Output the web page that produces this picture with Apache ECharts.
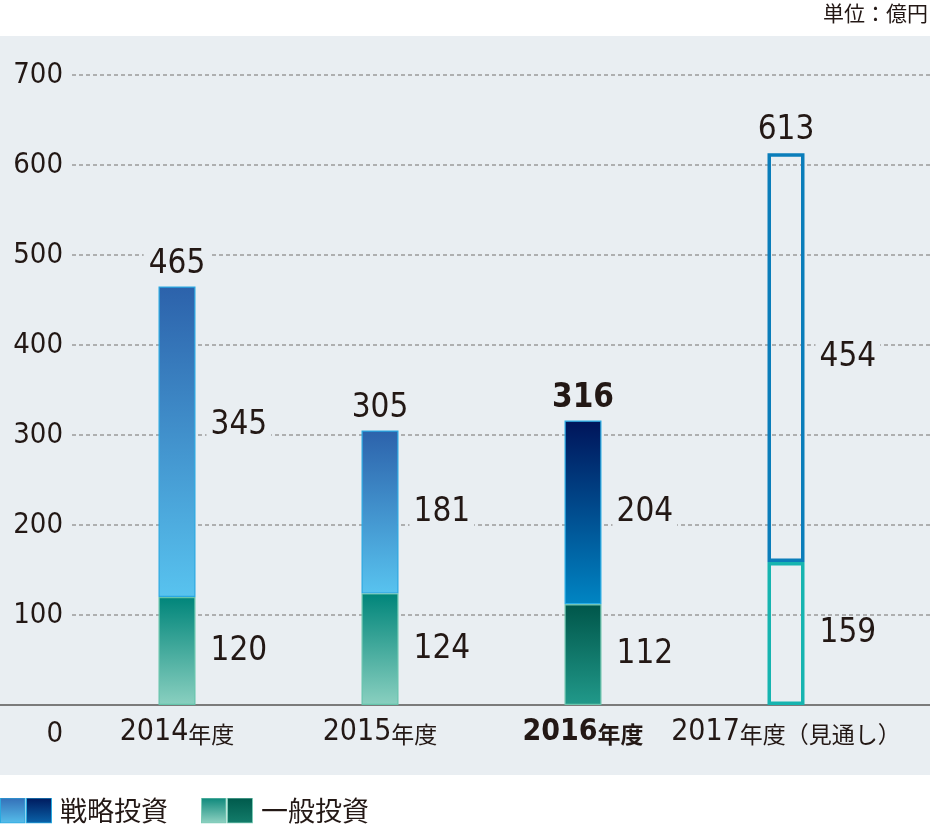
<!DOCTYPE html>
<html>
<head>
<meta charset="utf-8">
<script src="https://cdn.jsdelivr.net/npm/echarts@6/dist/echarts.min.js"></script>
<style>
html,body{margin:0;padding:0;background:#fff;}
#chart{width:930px;height:825px;}
</style>
</head>
<body>
<div id="chart"></div>
<script>
// ---- data ----
const categories = ['2014年度', '2015年度', '2016年度', '2017年度（見通し）'];
const strategic = [345, 181, 204, 454];   // 戦略投資
const general = [120, 124, 112, 159];     // 一般投資
const totals = [465, 305, 316, 613];
const seriesNames = ['戦略投資', '一般投資'];
const unitText = '単位：億円';

// ---- styles ----
const PANEL = '#e9eef2';
const TEXT = '#231815';
const NUM = "'Liberation Sans Narrow','DejaVu Sans Condensed',sans-serif";
const CJK = "'Noto Sans CJK JP',sans-serif";
const CUR = 2, FORECAST = 3; // index of highlighted year / forecast year

function grad(top, bottom) {
  return new echarts.graphic.LinearGradient(0, 0, 0, 1, [
    { offset: 0, color: top }, { offset: 1, color: bottom }
  ]);
}
function stratStyle(i) {
  if (i === FORECAST) return { color: 'rgba(0,0,0,0)', borderColor: '#0a7dba', borderWidth: 3.5 };
  if (i === CUR) return { color: grad('#00145a', '#0085c3'), borderColor: '#2aaee6', borderWidth: 1.2 };
  return { color: grad('#2c62ab', '#58c3ef'), borderColor: '#2aa8e2', borderWidth: 1.2 };
}
function genStyle(i) {
  if (i === FORECAST) return { color: 'rgba(0,0,0,0)', borderColor: '#16b4b0', borderWidth: 3.5 };
  if (i === CUR) return { color: grad('#00564a', '#21998a'), borderColor: '#6cc4ad', borderWidth: 1.2 };
  return { color: grad('#00857a', '#8ad0c0'), borderColor: '#66c4ac', borderWidth: 1.2 };
}
const valLabel = {
  show: true, position: 'right', distance: 11,
  fontFamily: NUM, fontSize: 33, color: TEXT,
  backgroundColor: PANEL, padding: [0, 4]
};

function svgIcon(a1, a2, b1, b2, stroke) {
  const s = '<svg xmlns="http://www.w3.org/2000/svg" width="52" height="26" viewBox="0 0 52 26">' +
    '<defs><linearGradient id="g1" x1="0" y1="0" x2="0" y2="1"><stop offset="0" stop-color="' + a1 + '"/><stop offset="1" stop-color="' + a2 + '"/></linearGradient>' +
    '<linearGradient id="g2" x1="0" y1="0" x2="0" y2="1"><stop offset="0" stop-color="' + b1 + '"/><stop offset="1" stop-color="' + b2 + '"/></linearGradient></defs>' +
    '<rect x="0.5" y="0.5" width="24.5" height="25" fill="url(#g1)" stroke="' + stroke + '"/>' +
    '<rect x="26.5" y="0.5" width="25" height="25" fill="url(#g2)" stroke="' + stroke + '"/></svg>';
  return 'image://data:image/svg+xml;charset=utf-8,' + encodeURIComponent(s);
}

const chart = echarts.init(document.getElementById('chart'), null, { renderer: 'canvas' });

const option = {
  animation: false,
  backgroundColor: '#ffffff',
  title: {
    text: unitText, right: 0, top: 1, padding: [2, 2, 2, 2],
    textStyle: { fontFamily: CJK, fontSize: 21, fontWeight: 'normal', color: TEXT }
  },
  legend: {
    left: 0, top: 797, padding: 0, itemWidth: 52, itemHeight: 26, itemGap: 33,
    selectedMode: false,
    textStyle: { fontFamily: CJK, fontSize: 27, color: TEXT, padding: [0, 0, 0, 3] },
    data: [
      { name: seriesNames[0], icon: svgIcon('#3470b8', '#55bdea', '#001a5e', '#0a62a8', '#29a9e0') },
      { name: seriesNames[1], icon: svgIcon('#0f897c', '#8ed1c1', '#005a4c', '#137c6a', '#7ccab6') }
    ]
  },
  grid: [
    { left: 0, right: 0, top: 36, bottom: 50, show: true, backgroundColor: PANEL, borderWidth: 0 },
    { left: 72, right: 0, top: 75, height: 630 },
    { left: 0, right: 0, top: 75, height: 630 },
    { left: 75.5, right: 42.5, top: 75, height: 630 }
  ],
  xAxis: [
    { gridIndex: 0, type: 'value', show: false },
    { gridIndex: 1, type: 'value', show: false },
    { gridIndex: 2, type: 'category', data: [''], axisTick: { show: false }, axisLabel: { show: false },
      axisLine: { lineStyle: { color: '#7b7b7b', width: 2 } } },
    { gridIndex: 3, type: 'category', data: categories,
      axisLine: { show: false }, axisTick: { show: false },
      axisLabel: {
        margin: 12, interval: 0,
        formatter: function (v, i) {
          const m = v.match(/^(\d+)(.*)$/);
          if (i === CUR) return '{yb|' + m[1] + '}{sb|' + m[2] + '}';
          return '{y|' + m[1] + '}{s|' + m[2] + '}';
        },
        rich: {
          y: { fontFamily: NUM, fontSize: 30, color: TEXT },
          s: { fontFamily: CJK, fontSize: 23, color: TEXT, padding: [5, 0, 0, 0] },
          yb: { fontFamily: NUM, fontSize: 30, color: TEXT, fontWeight: 'bold' },
          sb: { fontFamily: CJK, fontSize: 23, color: TEXT, fontWeight: 'bold', padding: [5, 0, 0, 0] }
        }
      }
    }
  ],
  yAxis: [
    { gridIndex: 0, type: 'value', show: false },
    { gridIndex: 1, type: 'value', min: 0, max: 700, interval: 100,
      axisLine: { show: false }, axisTick: { show: false },
      splitLine: { lineStyle: { color: '#9a9a9a', width: 1.5, type: [4, 3] } },
      axisLabel: {
        margin: 9, fontFamily: NUM, fontSize: 29, color: TEXT,
        formatter: function (v) { return v === 0 ? '{z|0}' : String(v); },
        rich: { z: { fontFamily: NUM, fontSize: 29, color: TEXT, padding: [58, 0, 0, 0] } }
      }
    },
    { gridIndex: 2, type: 'value', min: 0, max: 700, show: false },
    { gridIndex: 3, type: 'value', min: 0, max: 700, show: false }
  ],
  series: [
    {
      name: seriesNames[1], type: 'bar', stack: 'total', xAxisIndex: 3, yAxisIndex: 3,
      barWidth: 37, z: 4,
      data: general.map((v, i) => ({ value: v, itemStyle: genStyle(i) })),
      label: valLabel
    },
    {
      name: seriesNames[0], type: 'bar', stack: 'total', xAxisIndex: 3, yAxisIndex: 3,
      barWidth: 37, z: 3,
      data: strategic.map((v, i) => ({
        value: v, itemStyle: stratStyle(i),
        label: i === 0 ? { offset: [0, -16] } : {}
      })),
      label: valLabel
    },
    {
      name: 'total', type: 'scatter', xAxisIndex: 3, yAxisIndex: 3,
      symbolSize: 0, z: 6, silent: true,
      itemStyle: { opacity: 1 },
      data: totals.map((v, i) => ({
        value: v,
        label: i === CUR ? { fontWeight: 'bold' } : {}
      })),
      label: {
        show: true, position: 'top', distance: 6,
        fontFamily: NUM, fontSize: 33, color: TEXT,
        backgroundColor: PANEL, padding: [0, 5]
      }
    }
  ]
};
chart.setOption(option);
</script>
</body>
</html>
